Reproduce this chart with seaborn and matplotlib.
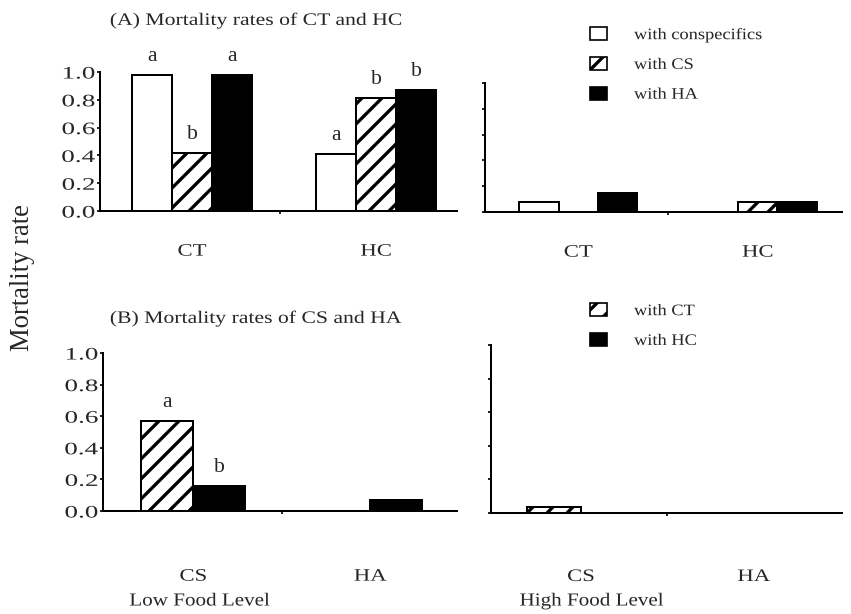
import numpy as np
import pandas as pd
import matplotlib
matplotlib.use("Agg")
import matplotlib.pyplot as plt
from matplotlib.patches import Patch
from matplotlib.patheffects import AbstractPathEffect
from matplotlib.transforms import Affine2D
import seaborn as sns

# ---- data -------------------------------------------------------------
top_species = ["CT", "HC"]
top_partners = ["with conspecifics", "with CS", "with HA"]
top_low = {
    "with conspecifics": [0.98, 0.41],
    "with CS": [0.42, 0.81],
    "with HA": [0.98, 0.87],
}
top_high = {
    "with conspecifics": [0.075, 0.0],
    "with CS": [0.0, 0.075],
    "with HA": [0.145, 0.075],
}
top_letters = {
    "with conspecifics": ["a", "a"],
    "with CS": ["b", "b"],
    "with HA": ["a", "b"],
}

bottom_species = ["CS", "HA"]
bottom_partners = ["with CT", "with HC"]
bottom_low = {
    "with CT": [0.57, 0.0],
    "with HC": [0.16, 0.07],
}
bottom_high = {
    "with CT": [0.035, 0.0],
    "with HC": [0.0, 0.0],
}
bottom_letters = {
    "with CT": ["a", ""],
    "with HC": ["b", ""],
}

y_ticks = [0.0, 0.2, 0.4, 0.6, 0.8, 1.0]
y_ticklabels = ["0.0", "0.2", "0.4", "0.6", "0.8", "1.0"]

fill = {"with conspecifics": "white", "with CS": "white", "with HA": "black",
        "with CT": "white", "with HC": "black"}
hatched = {"with CS", "with CT"}


# ---- wide-set type: glyphs widened along the baseline --------------------
class Widen(AbstractPathEffect):
    def __init__(self, sx, anchor="center"):
        super().__init__()
        self._sx = sx
        self._anchor = anchor

    def draw_path(self, renderer, gc, tpath, affine, rgbFace=None):
        ext = tpath.get_extents()
        if self._anchor == "left":
            px = ext.x0
        elif self._anchor == "right":
            px = ext.x1
        else:
            px = 0.5 * (ext.x0 + ext.x1)
        pre = Affine2D().translate(-px, 0).scale(self._sx, 1.0).translate(px, 0)
        renderer.draw_path(gc, tpath, pre + affine, rgbFace)


def widen(text, sx, anchor="center"):
    text.set_path_effects([Widen(sx, anchor)])
    return text


# ---- style ------------------------------------------------------------
sns.set_style("ticks")
plt.rcParams["font.family"] = ["Liberation Serif", "DejaVu Serif"]
plt.rcParams["hatch.linewidth"] = 2.0
plt.rcParams["hatch.color"] = "black"

W, H = 851, 614
DPI = 120
fig = plt.figure(figsize=(W / DPI, H / DPI), dpi=DPI)

TICK_SIZE, TICK_SX = 10.5, 1.55
CAT_SIZE, CAT_SX = 10.5, 1.3
LET_SIZE = 13


def px_axes(left, top, right, bottom):
    return fig.add_axes([left / W, 1 - bottom / H, (right - left) / W, (bottom - top) / H])


def to_frame(species, partners, values):
    rows = []
    for p in partners:
        for s, v in zip(species, values[p]):
            rows.append({"species": s, "partner": p, "rate": v})
    return pd.DataFrame(rows)


def draw_panel(ax, species, partners, values, width, xlim, mid_tick=0.5,
               letters=None, show_labels=True, cat_pad=19):
    df = to_frame(species, partners, values)
    sns.barplot(data=df, x="species", y="rate", hue="partner",
                order=species, hue_order=partners,
                palette=[fill[p] for p in partners],
                width=width, edgecolor="black", linewidth=1.2,
                errorbar=None, legend=False, ax=ax)
    for p, cont in zip(partners, ax.containers):
        for bar in cont:
            if p in hatched:
                bar.set_hatch("//")
            bar.set_edgecolor("black")
    if letters is not None:
        for p, cont in zip(partners, ax.containers):
            for bar, lab in zip(cont, letters[p]):
                if lab:
                    ax.annotate(lab, (bar.get_x() + bar.get_width() / 2, bar.get_height()),
                                xytext=(0, 8.4), textcoords="offset points",
                                ha="center", va="baseline", fontsize=LET_SIZE)
    ax.set_xlim(*xlim)
    ax.set_ylim(0, 1.0)
    ax.set_yticks(y_ticks)
    if show_labels:
        ax.set_yticklabels(y_ticklabels)
    else:
        ax.set_yticklabels([])
    ax.set_xticks([0, 1])
    ax.set_xticklabels(species)
    ax.set_xticks([mid_tick], minor=True)
    ax.tick_params(axis="x", which="major", length=0, pad=cat_pad, labelsize=CAT_SIZE)
    ax.tick_params(axis="x", which="minor", length=2, width=1.2, direction="out")
    ax.tick_params(axis="y", length=2, width=1.2, pad=1, labelsize=TICK_SIZE)
    for t in ax.get_yticklabels():
        widen(t, TICK_SX, "right")
    for t in ax.get_xticklabels():
        widen(t, CAT_SX)
    ax.set_xlabel("")
    ax.set_ylabel("")
    for side in ("top", "right"):
        ax.spines[side].set_visible(False)
    for side in ("left", "bottom"):
        ax.spines[side].set_linewidth(1.2)
        ax.spines[side].set_color("black")


ax_tl = px_axes(100, 72, 457, 211)
ax_tr = px_axes(485, 83, 842, 212)
ax_bl = px_axes(103, 353, 457, 511)
ax_br = px_axes(491, 345, 842, 513)

draw_panel(ax_tl, top_species, top_partners, top_low, 0.65, (-0.5, 1.44),
           mid_tick=0.48, letters=top_letters)
draw_panel(ax_tr, top_species, top_partners, top_high, 0.66, (-0.52, 1.47),
           show_labels=False)
draw_panel(ax_bl, bottom_species, bottom_partners, bottom_low, 0.59, (-0.51, 1.49),
           letters=bottom_letters, cat_pad=34)
draw_panel(ax_br, bottom_species, bottom_partners, bottom_high, 0.62, (-0.52, 1.51),
           show_labels=False, cat_pad=33)

# ---- titles, legends, shared labels -----------------------------------
widen(fig.text(110 / W, 1 - 20 / H, "(A) Mortality rates of CT and HC", fontsize=10.5,
               ha="left", va="center"), 1.24, "left")
widen(fig.text(110 / W, 1 - 318 / H, "(B) Mortality rates of CS and HA", fontsize=10.5,
               ha="left", va="center"), 1.24, "left")


def legend_handles(partners):
    return [Patch(facecolor=fill[p], edgecolor="black", linewidth=1.0,
                  hatch="//" if p in hatched else None, label=p) for p in partners]


leg_kw = dict(loc="upper left", frameon=False, fontsize=9.6, borderpad=0,
              borderaxespad=0, handlelength=1.05, handleheight=0.9,
              handletextpad=1.7, labelspacing=0.85)
leg_top = fig.legend(handles=legend_handles(top_partners),
                     bbox_to_anchor=(590 / W, 1 - 27 / H), **leg_kw)
leg_bot = fig.legend(handles=legend_handles(bottom_partners),
                     bbox_to_anchor=(590 / W, 1 - 303 / H), **leg_kw)
for leg in (leg_top, leg_bot):
    for t in leg.get_texts():
        widen(t, 1.15, "left")

fig.text(23 / W, 1 - 278 / H, "Mortality rate", rotation=90, fontsize=16,
         ha="center", va="center")
widen(fig.text(200 / W, 1 - 601 / H, "Low Food Level", fontsize=11,
               ha="center", va="center"), 1.15)
widen(fig.text(592 / W, 1 - 601 / H, "High Food Level", fontsize=11,
               ha="center", va="center"), 1.15)

fig.savefig("out.png", dpi=DPI)
